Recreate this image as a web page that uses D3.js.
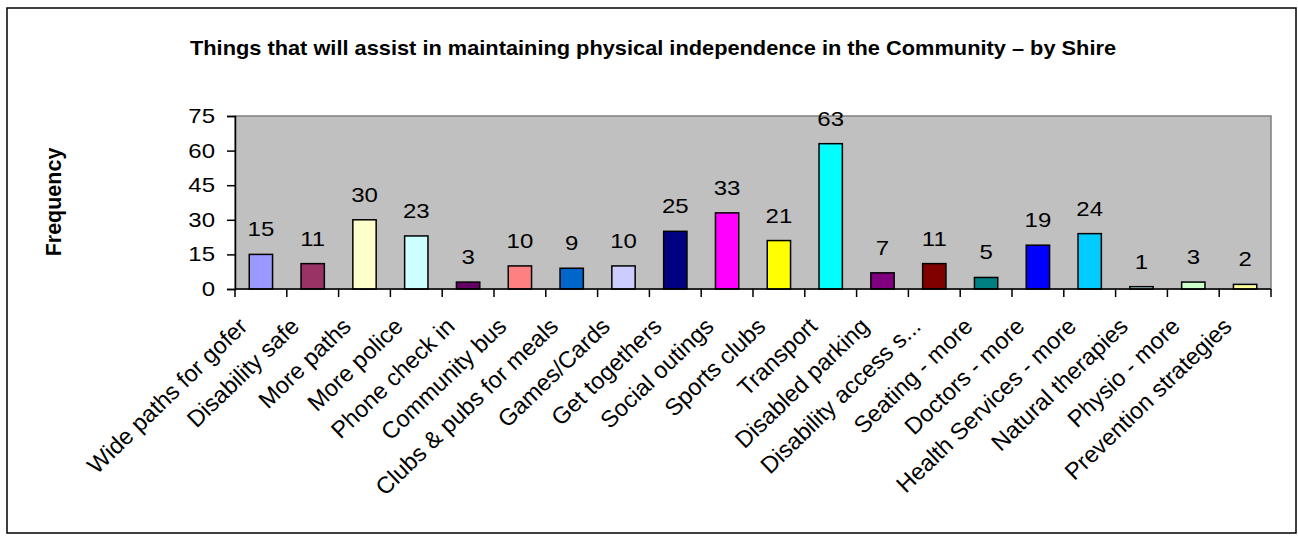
<!DOCTYPE html>
<html lang="en">
<head>
    <meta charset="UTF-8">
    <title>Things that will assist in maintaining physical independence</title>
    <script src="https://cdn.jsdelivr.net/npm/d3@7"></script>
</head>
<style>
    body { margin: 0; background: #fff; }
    svg { display: block; font-family: Arial, "Liberation Sans", sans-serif; }
</style>
<body>
    <div class="chartBox"></div>
    <script>
        // data
        const categories = ["Wide paths for gofer", "Disability safe", "More paths", "More police", "Phone check in",
            "Community bus", "Clubs & pubs for meals", "Games/Cards", "Get togethers", "Social outings",
            "Sports clubs", "Transport", "Disabled parking", "Disability access s...", "Seating - more",
            "Doctors - more", "Health Services - more", "Natural therapies", "Physio - more", "Prevention strategies"];
        const values = [15, 11, 30, 23, 3, 10, 9, 10, 25, 33, 21, 63, 7, 11, 5, 19, 24, 1, 3, 2];
        const barColors = ["#9999FF", "#993366", "#FFFFCC", "#CCFFFF", "#660066", "#FF8080", "#0066CC", "#CCCCFF",
            "#000080", "#FF00FF", "#FFFF00", "#00FFFF", "#800080", "#800000", "#008080", "#0000FF",
            "#00CCFF", "#CCFFFF", "#CCFFCC", "#FFFF99"];
        const yTicks = [0, 15, 30, 45, 60, 75];

        const width = 1298, height = 540;
        const plot = { left: 235, right: 1271, top: 116, bottom: 289 };
        const stretch = 1.2; // the original text looks wider than plain Arial

        const svg = d3.select(".chartBox").append("svg").attr("width", width).attr("height", height);

        // outer frame
        svg.append("rect").attr("x", 7).attr("y", 8).attr("width", 1289).attr("height", 525)
            .attr("fill", "#fff").attr("stroke", "#000").attr("stroke-width", 1.5);

        const x = d3.scaleBand().domain(categories).range([plot.left, plot.right]).paddingInner(0.55).paddingOuter(0.275);
        const xEdge = d3.scaleLinear().domain([0, categories.length]).range([plot.left, plot.right]);
        const y = d3.scaleLinear().domain([0, 75]).range([plot.bottom, plot.top]);

        // plot area
        svg.append("rect").attr("x", plot.left).attr("y", plot.top)
            .attr("width", plot.right - plot.left).attr("height", plot.bottom - plot.top)
            .attr("fill", "#C0C0C0").attr("stroke", "#808080").attr("stroke-width", 1.5);

        // bars
        svg.append("g").selectAll("rect")
            .data(values)
            .join("rect")
            .attr("x", (d, i) => x(categories[i]))
            .attr("y", d => y(d))
            .attr("width", x.bandwidth())
            .attr("height", d => y(0) - y(d))
            .attr("fill", (d, i) => barColors[i])
            .attr("stroke", "#000")
            .attr("stroke-width", 1.5);

        // value labels
        svg.append("g").selectAll("text")
            .data(values)
            .join("text")
            .attr("transform", (d, i) => `translate(${x(categories[i]) + x.bandwidth() / 2},${y(d) - 18}) scale(${stretch},1)`)
            .attr("text-anchor", "middle")
            .style("font-size", "20px")
            .text(d => d);

        // y axis
        const yAxis = svg.append("g").attr("transform", `translate(${plot.left},0)`)
            .call(d3.axisLeft(y).tickValues(yTicks).tickSize(8));
        yAxis.select(".domain").attr("stroke", "#000").attr("stroke-width", 1.5);
        yAxis.selectAll(".tick line").attr("stroke", "#000").attr("stroke-width", 1.5);
        yAxis.selectAll(".tick text")
            .attr("x", -20 / stretch)
            .attr("transform", `scale(${stretch},1)`)
            .style("font-size", "20px").attr("fill", "#000").attr("font-family", null);

        // x axis with ticks between categories
        const xAxis = svg.append("g").attr("transform", `translate(0,${plot.bottom})`);
        xAxis.append("line").attr("x1", plot.left).attr("x2", plot.right).attr("stroke", "#000").attr("stroke-width", 1.5);
        xAxis.selectAll("line.tk")
            .data(d3.range(categories.length + 1))
            .join("line").attr("class", "tk")
            .attr("x1", d => xEdge(d)).attr("x2", d => xEdge(d))
            .attr("y1", 0).attr("y2", 8)
            .attr("stroke", "#000").attr("stroke-width", 1.5);

        // category labels, rotated
        svg.append("g").selectAll("text")
            .data(categories)
            .join("text")
            .attr("transform", d => `translate(${x(d) + x.bandwidth() / 2 - 12},328) rotate(-44)`)
            .attr("text-anchor", "end")
            .style("font-size", "23.5px")
            .text(d => d);

        // titles
        svg.append("text").attr("transform", `translate(653,55) scale(1.09,1)`).attr("text-anchor", "middle")
            .style("font-size", "20px").style("font-weight", "bold")
            .text("Things that will assist in maintaining physical independence in the Community \u2013 by Shire");

        svg.append("text").attr("transform", `translate(61,202) rotate(-90)`).attr("text-anchor", "middle")
            .style("font-size", "21.5px").style("font-weight", "bold")
            .text("Frequency");
    </script>
</body>
</html>
